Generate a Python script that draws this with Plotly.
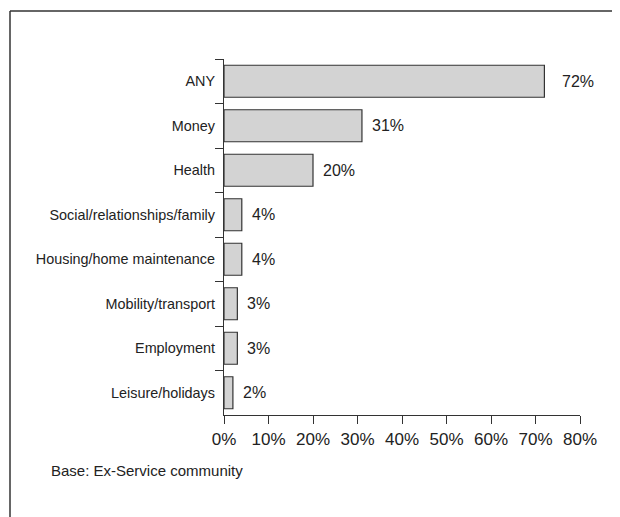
import plotly.graph_objects as go

categories = ["ANY", "Money", "Health", "Social/relationships/family",
              "Housing/home maintenance", "Mobility/transport", "Employment",
              "Leisure/holidays"]
values = [72, 31, 20, 4, 4, 3, 3, 2]
x_ticks = [0, 10, 20, 30, 40, 50, 60, 70, 80]
x_tick_labels = [f"{v}%" for v in x_ticks]
base_note = "Base: Ex-Service community"

# page body has an 8px margin, so the figure is sized/positioned in page coords minus 8
OFF = 8
W, H = 620 - OFF, 517 - OFF
L, R, T, B = 224 - OFF, 40, 59 - OFF, 102
pw, ph = W - L - R, H - T - B

def px_x(p):
    return (p - OFF - L) / pw

def px_y(p):
    return (H - B - (p - OFF)) / ph

dark = "#333333"
fnt = "Liberation Sans, Arial, sans-serif"

fig = go.Figure(go.Bar(
    x=values, y=categories, orientation="h",
    marker=dict(color="#d3d3d3", line=dict(color=dark, width=1.2)),
    hoverinfo="skip",
))

annotations = []
for c, v in zip(categories, values):
    annotations.append(dict(
        x=v, y=c, xref="x", yref="y", text=f"{v}%", showarrow=False,
        xanchor="left", yanchor="middle", xshift=16 if v > 60 else 8,
        font=dict(size=16, color="#222222", family=fnt),
    ))
annotations.append(dict(
    x=px_x(49), y=px_y(470), xref="paper", yref="paper", text=base_note,
    showarrow=False, xanchor="left", yanchor="middle",
    font=dict(size=15, color="#222222", family=fnt),
))

shapes = [
    dict(type="line", xref="paper", yref="paper", x0=px_x(10), x1=px_x(10),
         y0=px_y(11), y1=px_y(600), line=dict(color=dark, width=1.5)),
    dict(type="line", xref="paper", yref="paper", x0=px_x(10), x1=px_x(700),
         y0=px_y(11), y1=px_y(11), line=dict(color=dark, width=1.5)),
]

fig.update_layout(
    width=W, height=H,
    margin=dict(l=L, r=R, t=T, b=B, pad=0),
    paper_bgcolor="white", plot_bgcolor="white",
    bargap=0.28, showlegend=False,
    font=dict(family=fnt, color="#222222"),
    annotations=annotations, shapes=shapes,
    xaxis=dict(range=[0, 80], tickvals=x_ticks, ticktext=x_tick_labels,
               showgrid=False, zeroline=False, showline=True,
               linecolor=dark, linewidth=1.2, ticks="outside", ticklen=8,
               tickcolor=dark, tickwidth=1.2, tickfont=dict(size=17)),
    yaxis=dict(categoryorder="array", categoryarray=categories,
               autorange="reversed", showgrid=False, zeroline=False,
               showline=True, linecolor=dark, linewidth=1.2,
               ticks="outside", ticklen=8, tickson="boundaries",
               ticklabelstandoff=5,
               tickcolor=dark, tickwidth=1.2, tickfont=dict(size=14.4)),
)

fig.write_html("out.html")
